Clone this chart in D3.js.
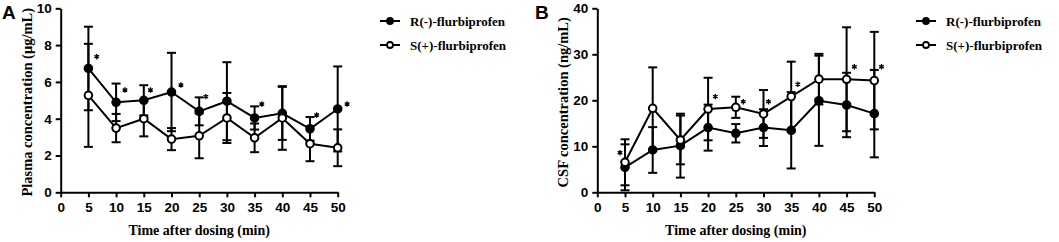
<!DOCTYPE html>
<html><head><meta charset="utf-8">
<script src="https://cdn.jsdelivr.net/npm/d3@7"></script>
<style>body{margin:0;background:#fff}</style>
</head><body>
<svg id="c" width="1059" height="242"></svg>
<script>
const times = [5,10,15,20,25,30,35,40,45,50];
const xTicks = [0,5,10,15,20,25,30,35,40,45,50];
const seriesNames = ["R(-)-flurbiprofen","S(+)-flurbiprofen"];

// Panel A: plasma (µg/mL)
const plasmaR = [6.73,4.89,5.00,5.45,4.40,4.95,4.04,4.29,3.45,4.53];
const plasmaRsd = [2.27,1.02,0.82,2.13,0.76,2.12,0.63,1.44,0.64,2.31];
const plasmaS = [5.27,3.49,4.00,2.89,3.07,4.04,2.96,4.04,2.64,2.42];
const plasmaSsd = [2.80,0.77,0.96,0.60,1.22,1.36,0.78,1.73,0.95,1.00];
const plasmaTicks = [0,2,4,6,8,10];
const plasmaStarX = [6.5,11.6,16.2,21.7,26.2,36.3,46.2,51.7];
const plasmaStarY = [7.37,5.56,5.56,5.83,5.2,4.8,4.2,4.8];

// Panel B: CSF (ng/mL)
const csfR = [5.43,9.2,10.14,14.06,12.83,14.06,13.48,19.9,18.98,17.1];
const csfRsd = [5.0,4.97,6.95,5.0,2.0,4.0,8.3,9.8,7.0,9.5];
const csfS = [6.52,18.26,11.38,18.1,18.48,17.03,20.8,24.6,24.57,24.28];
const csfSsd = [5.0,8.9,5.3,6.8,2.3,5.2,7.6,5.5,11.3,10.6];
const csfTicks = [0,10,20,30,40];
const csfStarX = [4.1,21.3,26.35,30.9,36.2,46.4,51.3];
const csfStarY = [8.6,20.8,19.7,19.7,23.5,27.3,27.3];

const svg = d3.select("#c");
svg.append("rect").attr("width",1059).attr("height",242).attr("fill","#fff");

const serif = "'Liberation Serif','Times New Roman',serif";
const sans = "'Liberation Sans',Arial,sans-serif";

function panel(opt){
  const g = svg.append("g");
  const x = d3.scaleLinear().domain([0,50]).range([opt.x0, opt.x0+277]);
  const y = d3.scaleLinear().domain([0,opt.ymax]).range([192.3, 8.3]);

  const xa = g.append("g").attr("transform",`translate(0,${y(0)})`)
    .call(d3.axisBottom(x).tickValues(xTicks).tickSize(5).tickSizeOuter(0).tickPadding(5).tickFormat(d3.format("d")));
  const ya = g.append("g").attr("transform",`translate(${x(0)},0)`)
    .call(d3.axisLeft(y).tickValues(opt.yTicks).tickSize(5).tickSizeOuter(0).tickPadding(4).tickFormat(d3.format("d")));
  [xa,ya].forEach(a=>{
    a.selectAll("path,line").attr("stroke","#000").attr("stroke-width",2);
    a.selectAll("text").attr("fill","#000").style("font-family",sans).style("font-weight","bold").style("font-size","13.5px");
  });

  g.append("text").attr("x",(x(0)+x(50))/2).attr("y",235)
    .attr("text-anchor","middle").style("font-family",serif).style("font-weight","bold").style("font-size","14px")
    .text("Time after dosing (min)");
  g.append("text").attr("transform",`translate(${opt.x0-34},${y(opt.ymax/2)+2}) rotate(-90)`)
    .attr("text-anchor","middle").attr("dominant-baseline","central")
    .style("font-family",serif).style("font-weight","bold").style("font-size","14.5px")
    .text(opt.ytitle);
  g.append("text").attr("x",opt.labelX).attr("y",19)
    .style("font-family",sans).style("font-weight","bold").style("font-size","19px").text(opt.label);

  const sets = [
    {v:opt.R, sd:opt.Rsd, fill:"#000"},
    {v:opt.S, sd:opt.Ssd, fill:"#fff"}
  ];
  // error bars
  sets.forEach(s=>{
    const eb = g.append("g").attr("stroke","#000").attr("stroke-width",2);
    times.forEach((t,i)=>{
      const hi = y(s.v[i]+s.sd[i]), lo = y(Math.max(0,s.v[i]-s.sd[i]));
      eb.append("line").attr("x1",x(t)).attr("x2",x(t)).attr("y1",hi).attr("y2",lo);
      eb.append("line").attr("x1",x(t)-4.5).attr("x2",x(t)+4.5).attr("y1",hi).attr("y2",hi);
      eb.append("line").attr("x1",x(t)-4.5).attr("x2",x(t)+4.5).attr("y1",lo).attr("y2",lo);
    });
  });
  const line = d3.line().x((d,i)=>x(times[i])).y(d=>y(d));
  sets.forEach(s=>{
    g.append("path").datum(s.v).attr("d",line).attr("fill","none").attr("stroke","#000").attr("stroke-width",2);
  });
  sets.forEach(s=>{
    g.selectAll(null).data(s.v).enter().append("circle")
      .attr("cx",(d,i)=>x(times[i])).attr("cy",d=>y(d)).attr("r",3.8)
      .attr("fill",s.fill).attr("stroke","#000").attr("stroke-width",2);
  });
  // asterisks (drawn as 3 crossing strokes)
  const r = 2.7;
  const ast = d3.path();
  [90,30,150].forEach(a=>{
    const rad = a*Math.PI/180;
    ast.moveTo(r*Math.cos(rad), -r*Math.sin(rad));
    ast.lineTo(-r*Math.cos(rad), r*Math.sin(rad));
  });
  g.selectAll(null).data(opt.starX).enter().append("path")
    .attr("transform",(d,i)=>`translate(${x(d)},${y(opt.starY[i])})`)
    .attr("d",ast.toString()).attr("stroke","#000").attr("stroke-width",1.3).attr("fill","none");

  // legend
  const lg = g.append("g");
  seriesNames.forEach((n,i)=>{
    const yy = 21 + i*24;
    lg.append("line").attr("x1",opt.legX).attr("x2",opt.legX+20).attr("y1",yy).attr("y2",yy).attr("stroke","#000").attr("stroke-width",2);
    lg.append("circle").attr("cx",opt.legX+10).attr("cy",yy).attr("r",3).attr("fill",sets[i].fill).attr("stroke","#000").attr("stroke-width",1.8);
    lg.append("text").attr("x",opt.legX+30).attr("y",yy).attr("dominant-baseline","central")
      .style("font-family",serif).style("font-weight","bold").style("font-size","13px").text(n);
  });
}

panel({x0:60.7, ymax:10, yTicks:plasmaTicks, R:plasmaR, Rsd:plasmaRsd, S:plasmaS, Ssd:plasmaSsd,
  starX:plasmaStarX, starY:plasmaStarY, ytitle:"Plasma concentration (μg/mL)", label:"A", labelX:2, legX:380});
panel({x0:597.3, ymax:40, yTicks:csfTicks, R:csfR, Rsd:csfRsd, S:csfS, Ssd:csfSsd,
  starX:csfStarX, starY:csfStarY, ytitle:"CSF concentration (ng/mL)", label:"B", labelX:535, legX:916});
</script>
</body></html>
